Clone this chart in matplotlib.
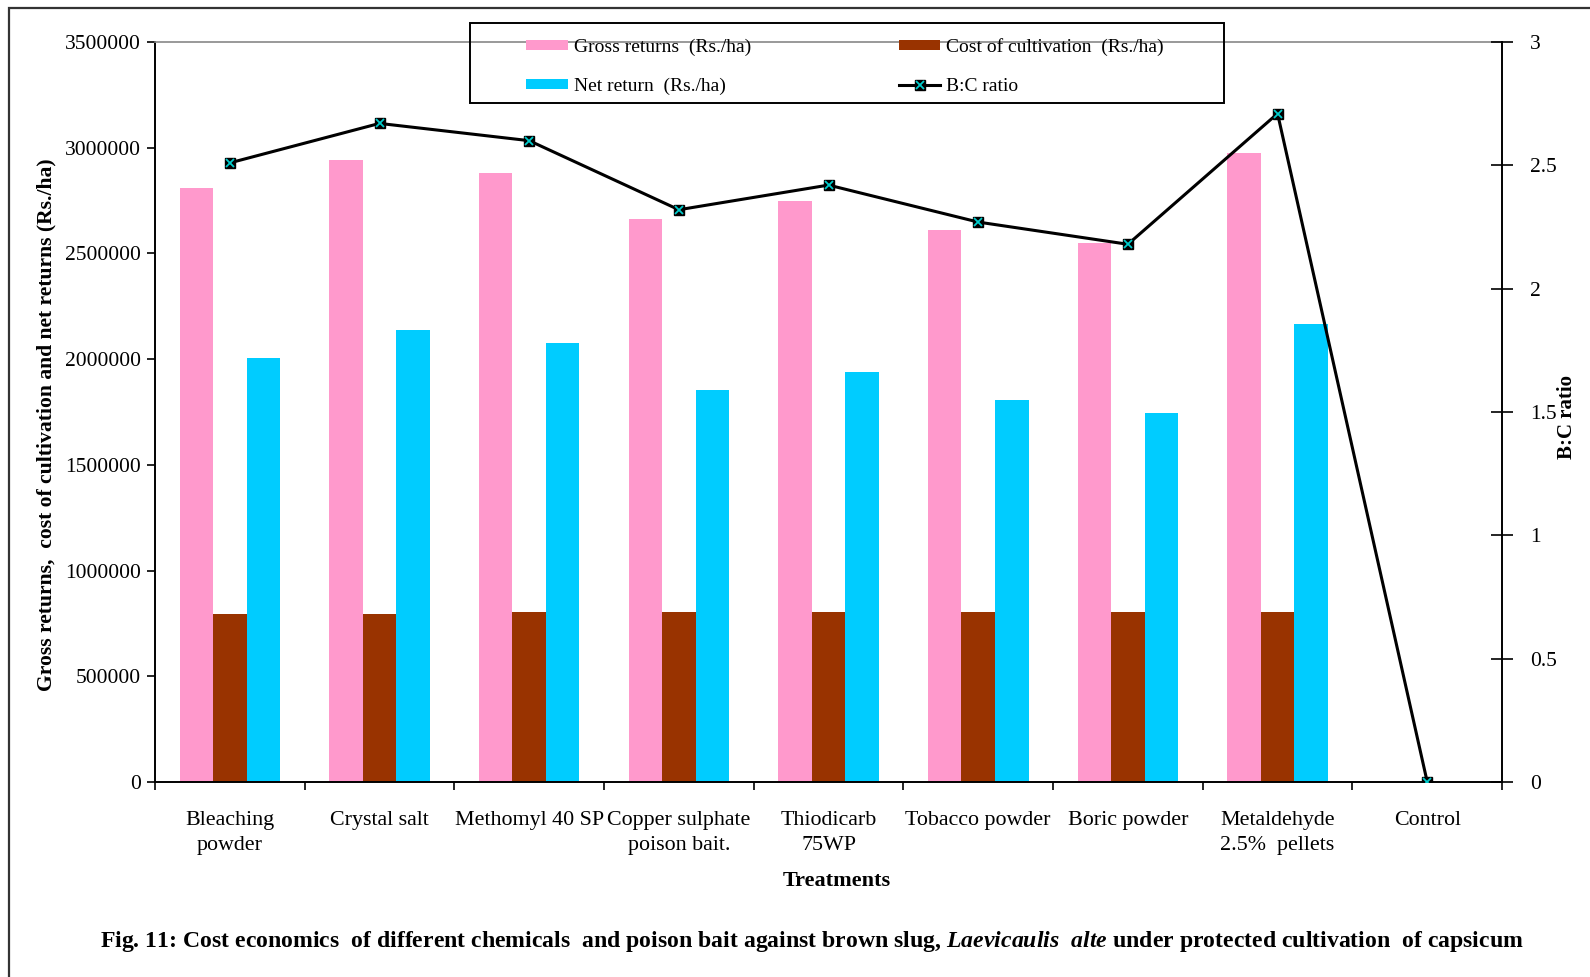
import numpy as np
import matplotlib
matplotlib.use("Agg")
import matplotlib.pyplot as plt
from matplotlib.patches import Rectangle
from matplotlib.legend_handler import HandlerTuple

plt.rcParams["font.family"] = "Liberation Serif"
plt.rcParams["mathtext.fontset"] = "custom"
plt.rcParams["mathtext.it"] = "Liberation Serif:italic:bold"
plt.rcParams["mathtext.rm"] = "Liberation Serif:bold"

treatments = ["Bleaching\npowder", "Crystal salt", "Methomyl 40 SP", "Copper sulphate\npoison bait.",
              "Thiodicarb\n75WP", "Tobacco powder", "Boric powder", "Metaldehyde\n2.5%  pellets", "Control"]
gross_returns = [2810000, 2940000, 2882000, 2661000, 2747000, 2613000, 2551000, 2973000, 0]
cost_cultivation = [796000, 796000, 805000, 805000, 805000, 805000, 805000, 805000, 0]
net_return = [2004000, 2138000, 2076000, 1855000, 1937000, 1808000, 1745000, 2167000, 0]
bc_ratio = [2.51, 2.67, 2.60, 2.32, 2.42, 2.27, 2.18, 2.71, 0.0]

pink = "#FF99CC"
brown = "#993300"
cyan = "#00CCFF"

W, H = 1590, 977
fig = plt.figure(figsize=(15.9, 9.77), dpi=100)
ax = fig.add_axes([0.0975, 0.1996, 0.8472, 0.7574])

x = np.arange(len(treatments))
w = 0.224
b1 = ax.bar(x - w, gross_returns, w, color=pink)
b2 = ax.bar(x, cost_cultivation, w, color=brown)
b3 = ax.bar(x + w, net_return, w, color=cyan)

ax.set_xlim(-0.5, len(treatments) - 0.5)
ax.set_ylim(0, 3500000)
ax.set_yticks(np.arange(0, 3500001, 500000))
ax.set_yticklabels([str(v) for v in range(0, 3500001, 500000)], fontsize=15.5)
ax.set_xticks(x)
ax.set_xticklabels(treatments, fontsize=15.8, linespacing=1.4)
ax.set_xticks(np.arange(-0.5, len(treatments)), minor=True)
ax.tick_params(axis="x", which="major", length=0, pad=21)
ax.tick_params(axis="x", which="minor", length=6, width=1.2, direction="out")
ax.tick_params(axis="y", length=6, width=1.2, direction="out", pad=4)
for s in ["left", "bottom"]:
    ax.spines[s].set_linewidth(1.4)
ax.spines["top"].set_color("#888888")
ax.spines["top"].set_linewidth(1.2)
ax.spines["right"].set_visible(False)

# axis titles placed in figure coordinates
fig.text(46 / W, 1 - 425 / H, "Gross returns,  cost of cultivation and net returns (Rs./ha)",
         rotation=90, fontsize=15.6, fontweight="bold", ha="center", va="center")
fig.text(837 / W, 1 - 881 / H, "Treatments", fontsize=16, fontweight="bold",
         ha="center", va="center")

ax2 = ax.twinx()
ln, = ax2.plot(x, bc_ratio, color="black", lw=2.2, marker="s", ms=7,
               markerfacecolor="black", markeredgecolor="black", zorder=3)
mk, = ax2.plot(x, bc_ratio, ls="none", marker="x", ms=6, mew=1.3, color="#00CCCC", zorder=4)
ax2.set_ylim(0, 3)
ax2.set_yticks([0, 0.5, 1, 1.5, 2, 2.5, 3])
ax2.set_yticklabels(["0", "0.5", "1", "1.5", "2", "2.5", "3"], fontsize=15.5)
ax2.tick_params(axis="y", length=16, width=1.2, direction="inout", pad=12)
ax2.spines["right"].set_linewidth(1.4)
for s in ["left", "bottom", "top"]:
    ax2.spines[s].set_visible(False)
fig.text(1567 / W, 1 - 417 / H, "B:C ratio", rotation=90, fontsize=15, fontweight="bold",
         ha="center", va="center")

# legend box drawn separately, entries laid out inside it
fig.patches.append(Rectangle((470 / W, 1 - 103 / H), 754 / W, 80 / H, transform=fig.transFigure,
                             fill=False, edgecolor="black", lw=1.4, zorder=5))
leg = fig.legend([b1, b3, b2, (ln, mk)],
                 ["Gross returns  (Rs./ha)", "Net return  (Rs./ha)",
                  "Cost of cultivation  (Rs./ha)", "B:C ratio"],
                 handler_map={tuple: HandlerTuple(ndivide=1)},
                 ncol=2, loc="upper left",
                 bbox_to_anchor=(526 / W, 1 - 38 / H),
                 fontsize=14, frameon=False,
                 handlelength=2.15, handleheight=0.42, handletextpad=0.3,
                 borderaxespad=0, borderpad=0, labelspacing=1.12, columnspacing=7.6)

fig.text(812 / W, 1 - 942 / H,
         r"Fig. 11: Cost economics  of different chemicals  and poison bait against brown slug, "
         r"$Laevicaulis\ \ alte$ under protected cultivation  of capsicum",
         fontsize=17.1, fontweight="bold", ha="center", va="center")

fig.patches.append(Rectangle((9 / W, -0.1), 1.2, 1.1 - 8 / H, transform=fig.transFigure,
                             fill=False, edgecolor="#333333", lw=1.6, zorder=0))

fig.savefig("out.png", dpi=100)
